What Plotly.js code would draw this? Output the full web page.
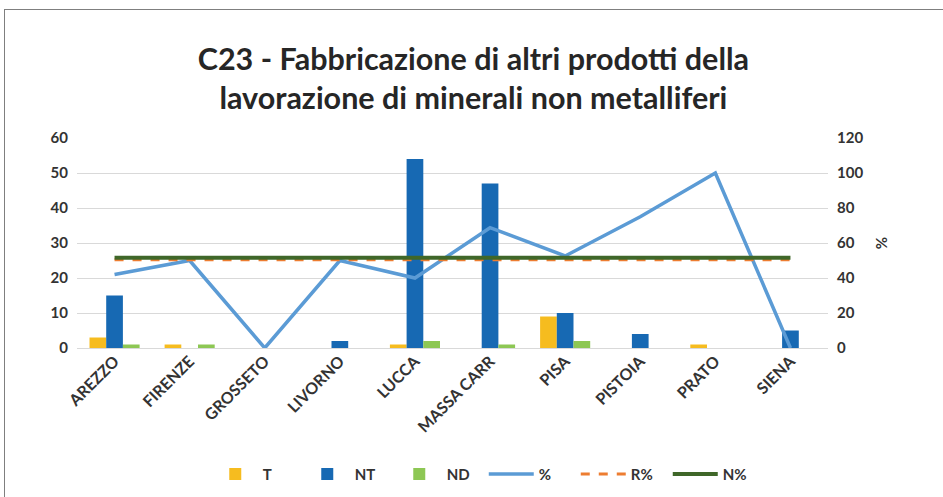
<!DOCTYPE html>
<html>
<head>
<meta charset="utf-8">
<script src="https://cdn.plot.ly/plotly-3.0.1.min.js"></script>
<style>
html,body{margin:0;padding:0;background:#fff;}
#frame{position:absolute;left:4px;top:9px;width:950px;height:500px;border-left:1px solid #7f7f7f;border-top:1px solid #7f7f7f;}
#chart{position:absolute;left:0;top:0;width:943px;height:497px;}
</style>
</head>
<body>
<div id="frame"></div>
<div id="chart"></div>
<script>
const categories = ["AREZZO","FIRENZE","GROSSETO","LIVORNO","LUCCA","MASSA CARR","PISA","PISTOIA","PRATO","SIENA"];
const T  = [3, 1, 0, 0, 1, 0, 9, 0, 1, 0];
const NT = [15, 0, 0, 2, 54, 47, 10, 4, 0, 5];
const ND = [1, 1, 0, 0, 2, 1, 2, 0, 0, 0];
const pct  = [42, 50, 0, 50, 40, 68.75, 52.6, 75, 100, 0];
const Rpct = [50.4, 50.4, 50.4, 50.4, 50.4, 50.4, 50.4, 50.4, 50.4, 50.4];
const Npct = [51.6, 51.6, 51.6, 51.6, 51.6, 51.6, 51.6, 51.6, 51.6, 51.6];

const fam = "Lato, 'Open Sans', sans-serif";
const tickFont = {family: fam, size: 15, color: "#333333", weight: "bold"};

const traces = [
  {type: "bar", name: "T", x: categories, y: T, marker: {color: "#f6bc1f"}},
  {type: "bar", name: "NT", x: categories, y: NT, marker: {color: "#1769b3"}},
  {type: "bar", name: "ND", x: categories, y: ND, marker: {color: "#8dc754"}},
  {type: "scatter", mode: "lines", name: "%", x: categories, y: pct, yaxis: "y2", line: {color: "#5b9bd5", width: 3.5}},
  {type: "scatter", mode: "lines", name: "R%", x: categories, y: Rpct, yaxis: "y2", line: {color: "#ed7d31", width: 3, dash: "dash"}},
  {type: "scatter", mode: "lines", name: "N%", x: categories, y: Npct, yaxis: "y2", line: {color: "#3f6729", width: 4}}
];

const layout = {
  width: 943, height: 497,
  paper_bgcolor: "rgba(0,0,0,0)", plot_bgcolor: "rgba(0,0,0,0)",
  margin: {l: 77, r: 115, t: 138, b: 149},
  barmode: "group", bargap: 0.333, bargroupgap: 0,
  title: {
    text: "C23 - Fabbricazione di altri prodotti della<br>lavorazione di minerali non metalliferi",
    font: {family: fam, size: 30.5, color: "#262626", weight: "bold"},
    x: 0.502, xanchor: "center", xref: "container",
    y: 0.86, yanchor: "middle", yref: "container"
  },
  xaxis: {
    type: "category", tickangle: -45, tickfont: {family: fam, size: 16, color: "#333333", weight: "bold"},
    showgrid: false, showline: false, ticks: "", fixedrange: true
  },
  yaxis: {
    range: [0, 60], dtick: 10, tickfont: tickFont,
    gridcolor: "#d9d9d9", gridwidth: 1, zeroline: true, zerolinecolor: "#d9d9d9", zerolinewidth: 1,
    showline: false, ticks: "", ticklabelstandoff: 8
  },
  yaxis2: {
    range: [0, 120], dtick: 20, overlaying: "y", side: "right", tickfont: tickFont,
    showgrid: false, zeroline: false, showline: false, ticks: "", ticklabelstandoff: 8,
    title: {text: "%", font: {family: fam, size: 15, color: "#333333", weight: "bold"}, standoff: 14}
  },
  legend: {
    orientation: "h", x: 0.513, xanchor: "center", xref: "container",
    y: 0.046, yanchor: "middle", yref: "container",
    font: {family: fam, size: 15, color: "#333333", weight: "bold"},
    itemwidth: 45, entrywidth: 32, traceorder: "normal"
  },
  showlegend: true
};

Plotly.newPlot("chart", traces, layout, {displayModeBar: false, staticPlot: true});
</script>
</body>
</html>
